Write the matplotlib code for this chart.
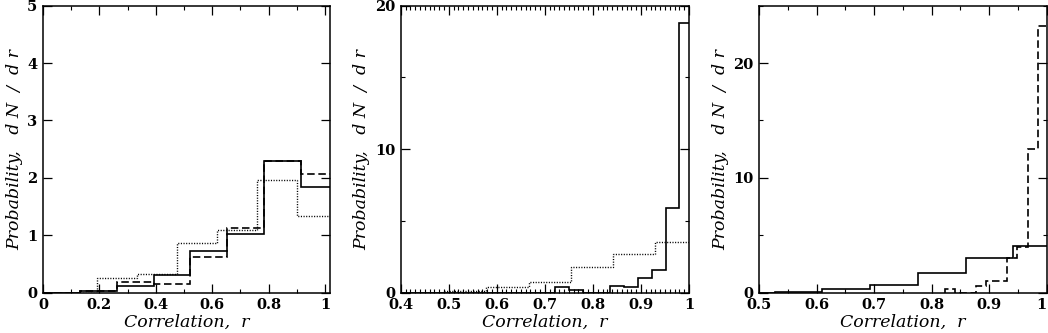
import numpy as np
import matplotlib
matplotlib.use("Agg")
import matplotlib.pyplot as plt
from matplotlib.ticker import MultipleLocator

# ---------------- data ----------------
# Panel 1
p1_solid_edges = [0.0, 0.1307, 0.2614, 0.3921, 0.5228, 0.6535, 0.7842, 0.9149, 1.0456]
p1_solid_vals = [0.0, 0.035, 0.11, 0.31, 0.72, 1.02, 2.30, 1.84]
p1_dash_vals = [0.0, 0.03, 0.19, 0.15, 0.62, 1.12, 2.30, 2.07]
p1_dot_edges = [0.0, 0.19, 0.3325, 0.475, 0.6175, 0.76, 0.9025, 1.045]
p1_dot_vals = [0.0, 0.25, 0.32, 0.86, 1.10, 1.96, 1.34]

# Panel 2
p2_solid_edges = [0.40, 0.7208, 0.7496, 0.7784, 0.8072, 0.836, 0.8648,
                  0.8936, 0.9224, 0.9512, 0.98, 1.0088]
p2_solid_vals = [0.0, 0.37, 0.22, 0.0, 0.0, 0.49, 0.37, 1.02, 1.55, 5.9, 18.8]
p2_dot_edges = [0.40, 0.49, 0.578, 0.666, 0.754, 0.842, 0.93, 1.018]
p2_dot_vals = [0.0, 0.15, 0.37, 0.75, 1.81, 2.72, 3.5]

# Panel 3
p3_solid_edges = [0.444, 0.527, 0.61, 0.693, 0.776, 0.859, 0.942, 1.025]
p3_solid_vals = [0.0, 0.05, 0.36, 0.65, 1.69, 3.06, 4.09]
p3_dash_edges = [0.823, 0.841, 0.859, 0.877, 0.895, 0.913, 0.931,
                 0.949, 0.967, 0.985, 1.003]
p3_dash_vals = [0.3, 0.0, 0.0, 0.55, 1.05, 1.05, 3.0, 4.0, 12.5, 23.2]

p1_xticks = [0, 0.2, 0.4, 0.6, 0.8, 1.0]
p1_xticklabels = ["0", "0.2", "0.4", "0.6", "0.8", "1"]
p2_xticks = [0.4, 0.5, 0.6, 0.7, 0.8, 0.9, 1.0]
p2_xticklabels = ["0.4", "0.5", "0.6", "0.7", "0.8", "0.9", "1"]
p3_xticks = [0.5, 0.6, 0.7, 0.8, 0.9, 1.0]
p3_xticklabels = ["0.5", "0.6", "0.7", "0.8", "0.9", "1"]

xlabel_text = "Correlation,  r"
ylabel_text = "Probability,   d N  /  d r"

# ---------------- figure ----------------
fig = plt.figure(figsize=(10.48, 3.33), dpi=100)
W, H = 1048, 333

def make_ax(left, right, top=5.7, bottom=292.7):
    return fig.add_axes([left / W, (H - bottom) / H, (right - left) / W, (bottom - top) / H])

ax1 = make_ax(43, 330)
ax2 = make_ax(400.7, 689)
ax3 = make_ax(759, 1046.7)

lw = 1.2
dash = (0, (4.5, 2.2))
dot = (0, (0.8, 1.1))

ax1.stairs(p1_solid_vals, p1_solid_edges, color="black", lw=lw)
ax1.stairs(p1_dash_vals, p1_solid_edges, color="black", lw=lw, linestyle=dash)
ax1.stairs(p1_dot_vals, p1_dot_edges, color="black", lw=1.0, linestyle=dot)

ax2.stairs(p2_solid_vals, p2_solid_edges, color="black", lw=lw)
ax2.stairs(p2_dot_vals, p2_dot_edges, color="black", lw=1.0, linestyle=dot)

ax3.stairs(p3_solid_vals, p3_solid_edges, color="black", lw=lw)
ax3.stairs(p3_dash_vals, p3_dash_edges, color="black", lw=lw, linestyle=dash)

ax1.set_xlim(0, 1.018)
ax1.set_ylim(0, 5)
ax2.set_xlim(0.4, 1.0)
ax2.set_ylim(0, 20)
ax3.set_xlim(0.5, 1.0)
ax3.set_ylim(0, 25)

ax1.set_xticks(p1_xticks, p1_xticklabels)
ax1.xaxis.set_minor_locator(MultipleLocator(0.1))
ax1.yaxis.set_major_locator(MultipleLocator(1))

ax2.set_xticks(p2_xticks, p2_xticklabels)
ax2.xaxis.set_minor_locator(MultipleLocator(0.01))
ax2.yaxis.set_major_locator(MultipleLocator(10))
ax2.yaxis.set_minor_locator(MultipleLocator(5))

ax3.set_xticks(p3_xticks, p3_xticklabels)
ax3.xaxis.set_minor_locator(MultipleLocator(0.05))
ax3.yaxis.set_major_locator(MultipleLocator(10))
ax3.yaxis.set_minor_locator(MultipleLocator(5))

for ax in (ax1, ax2, ax3):
    for s in ax.spines.values():
        s.set_linewidth(1.1)
    ax.tick_params(which="both", direction="in", top=True, right=True,
                   labelsize=10.5, pad=4)
    ax.tick_params(which="major", length=6.5, width=0.9)
    ax.tick_params(which="minor", length=3.2, width=0.8)
    for t in ax.get_xticklabels() + ax.get_yticklabels():
        t.set_fontfamily("DejaVu Serif")
        t.set_fontweight("bold")
    ax.set_xlabel(xlabel_text, fontfamily="DejaVu Serif", fontstyle="italic",
                  fontsize=12.5, labelpad=1)
    ax.set_ylabel(ylabel_text, fontfamily="DejaVu Serif", fontstyle="italic",
                  fontsize=12.5, labelpad=3)

# keep the last tick label of the right panel inside the figure
ax3.get_xticklabels()[-1].set_horizontalalignment("right")

fig.savefig("out.png", dpi=100)
